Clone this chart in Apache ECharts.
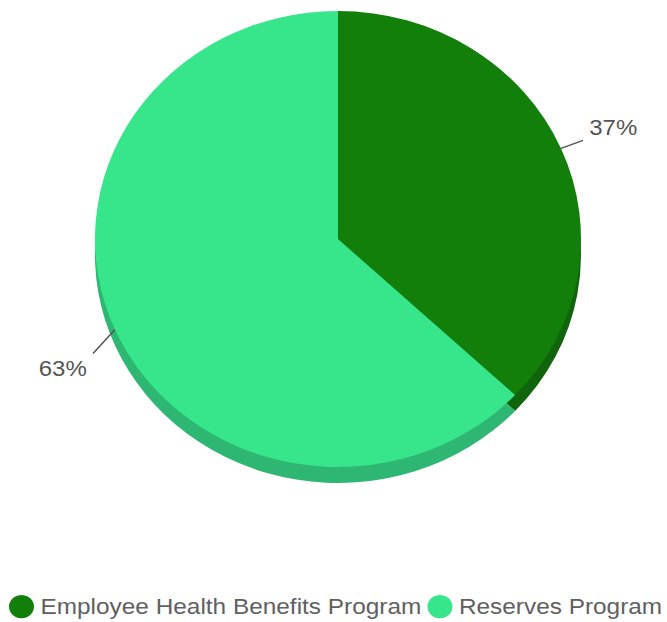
<!DOCTYPE html>
<html><head><meta charset="utf-8">
<script src="https://cdn.jsdelivr.net/npm/echarts@6/dist/echarts.min.js"></script>
<style>
html,body{margin:0;padding:0;background:#fff;overflow:hidden}
#wrap{width:667px;height:622px;overflow:hidden;position:relative}
#c{width:667px;height:663px;transform:scaleY(0.9383);transform-origin:0 0}
</style>
</head><body><div id="wrap"><div id="c"></div></div>
<script>
const categories = ['Employee Health Benefits Program', 'Reserves Program'];
const values = [37, 63];
const topColors = ['#137f0b', '#37e58b'];
const sideColors = ['#0f640c', '#2eb673'];
const labelShiftY = [-14, 32];
const connectorOffset = [[22, -8.5], [-22, 25.6]];

const FONT = '"Liberation Sans", Arial, sans-serif';
const chart = echarts.init(document.getElementById('c'), null, { renderer: 'svg' });

const topData = categories.map((n, i) => ({
  name: n, value: values[i],
  itemStyle: { color: topColors[i] }
}));
const sideData = categories.map((n, i) => ({
  name: n, value: values[i],
  itemStyle: { color: sideColors[i] }
}));

chart.setOption({
  animation: false,
  backgroundColor: '#fff',
  legend: {
    left: 9,
    right: 0,
    top: 634,
    padding: 0,
    icon: 'circle',
    itemWidth: 28,
    itemHeight: 25,
    itemGap: 6,
    selectedMode: false,
    textStyle: { fontSize: 24.4, color: '#606060', fontFamily: FONT },
    data: categories.map((n, i) => ({ name: n, itemStyle: { color: topColors[i] } }))
  },
  series: [
    {
      type: 'pie',
      z: 3,
      center: [338, 254.7],
      radius: 243,
      startAngle: 90,
      clockwise: true,
      avoidLabelOverlap: false,
      silent: true,
      data: topData,
      itemStyle: { borderWidth: 0 },
      label: {
        show: true,
        position: 'outside',
        formatter: '{d}%',
        fontSize: 24,
        color: '#555',
        fontFamily: FONT
      },
      labelLayout: function (p) {
        const i = p.dataIndex;
        const out = { dy: labelShiftY[i] };
        if (p.labelLinePoints && p.labelLinePoints.length) {
          const s = p.labelLinePoints[0];
          const o = connectorOffset[i];
          out.labelLinePoints = [[s[0], s[1]], [s[0] + o[0], s[1] + o[1]], [s[0] + o[0], s[1] + o[1]]];
        }
        return out;
      },
      labelLine: {
        show: true,
        length: 22,
        length2: 3,
        lineStyle: { color: '#555', width: 1.5 }
      }
    },
    {
      type: 'pie',
      z: 2,
      center: [338, 271.7],
      radius: 243,
      startAngle: 90,
      clockwise: true,
      silent: true,
      legendHoverLink: false,
      data: sideData,
      itemStyle: { borderWidth: 0 },
      label: { show: false },
      labelLine: { show: false }
    }
  ]
});
</script>
</body></html>
